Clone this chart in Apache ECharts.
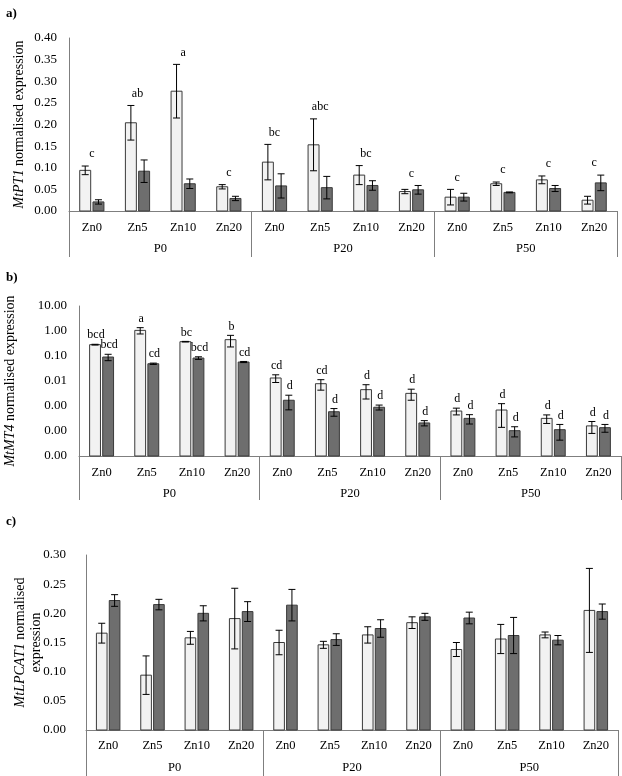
<!DOCTYPE html>
<html><head><meta charset="utf-8">
<script src="https://cdn.jsdelivr.net/npm/echarts@6.0.0/dist/echarts.min.js"></script>
<style>html,body{margin:0;padding:0;background:#fff}#c{width:622px;height:776px}</style>
</head><body><div id="c"></div>
<script>
// ---------- data ----------
const categories = ['Zn0','Zn5','Zn10','Zn20','Zn0','Zn5','Zn10','Zn20','Zn0','Zn5','Zn10','Zn20'];
const groups = ['P0','P20','P50'];

// a) MtPT1
const ptLight    = [0.094, 0.204, 0.277, 0.056, 0.113, 0.153, 0.083, 0.045, 0.032, 0.063, 0.072, 0.025];
const ptLightErr = [0.010, 0.040, 0.062, 0.005, 0.041, 0.060, 0.022, 0.005, 0.018, 0.004, 0.009, 0.009];
const ptDark     = [0.021, 0.092, 0.063, 0.029, 0.058, 0.054, 0.059, 0.049, 0.032, 0.043, 0.052, 0.065];
const ptDarkErr  = [0.005, 0.026, 0.011, 0.005, 0.028, 0.026, 0.011, 0.010, 0.009, 0.001, 0.007, 0.018];
const ptLetters  = ['c','ab','a','c','bc','abc','bc','c','c','c','c','c'];
const ptTicks    = [0, 0.40, 0.05];

// b) MtMT4 (log scale)
const mtLight    = [0.284, 1.06, 0.374, 0.45, 0.0132, 0.0078, 0.0045, 0.0032, 0.00063, 0.00069, 0.00032, 0.00016];
const mtLightErr = [0.01, 0.3, 0.01, 0.22, 0.0045, 0.0035, 0.0026, 0.0015, 0.00019, 0.00055, 0.00012, 0.00008];
const mtDark     = [0.091, 0.049, 0.083, 0.0575, 0.0017, 0.00059, 0.00089, 0.00021, 0.00032, 0.000103, 0.000113, 0.000136];
const mtDarkErr  = [0.026, 0.003, 0.01, 0.003, 0.001, 0.0002, 0.0002, 0.00005, 0.00013, 0.000045, 0.00007, 0.000047];
const mtLightLetters = ['bcd','a','bc','b','cd','cd','d','d','d','d','d','d'];
const mtDarkLetters  = ['bcd','cd','bcd','cd','d','d','d','d','d','d','d','d'];
const mtTicks    = [0.00001, 10];

// c) MtLPCAT1
const lpLight    = [0.166, 0.094, 0.158, 0.191, 0.150, 0.146, 0.163, 0.184, 0.138, 0.156, 0.163, 0.205];
const lpLightErr = [0.017, 0.033, 0.011, 0.052, 0.021, 0.006, 0.014, 0.010, 0.012, 0.025, 0.005, 0.072];
const lpDark     = [0.222, 0.215, 0.200, 0.203, 0.214, 0.155, 0.174, 0.194, 0.192, 0.162, 0.154, 0.203];
const lpDarkErr  = [0.010, 0.009, 0.013, 0.017, 0.027, 0.010, 0.015, 0.006, 0.010, 0.031, 0.008, 0.013];
const lpTicks    = [0, 0.30, 0.05];

// ---------- styles ----------
const serif = '"Liberation Serif", "DejaVu Serif", serif';
const axisGray = '#7f7f7f';
const lightFill = '#f2f2f2', darkFill = '#6e6e6e', barStroke = '#3a3a3a';

function rows(vals, errs) { return vals.map((v, i) => [i, v, errs[i]]); }

function barRender(side, fill, base, letters) {
  return function (params, api) {
    const i = api.value(0), v = api.value(1), e = api.value(2);
    const pb = api.coord([i, base]);
    const band = api.coord([1, base])[0] - api.coord([0, base])[0];
    const w = band * 0.24;
    const cx = pb[0] + side * band * 0.145;
    const top = api.coord([i, v])[1];
    const hi = api.coord([i, v + e])[1];
    const lo = api.coord([i, Math.max(v - e, base)])[1];
    const cap = 3.5;
    const ch = [
      {type: 'rect', shape: {x: cx - w / 2, y: top, width: w, height: pb[1] - top},
       style: {fill: fill, stroke: barStroke, lineWidth: 1}},
      {type: 'line', shape: {x1: cx, y1: hi, x2: cx, y2: lo}, style: {stroke: '#000', lineWidth: 1}},
      {type: 'line', shape: {x1: cx - cap, y1: hi, x2: cx + cap, y2: hi}, style: {stroke: '#000', lineWidth: 1}},
      {type: 'line', shape: {x1: cx - cap, y1: lo, x2: cx + cap, y2: lo}, style: {stroke: '#000', lineWidth: 1}}
    ];
    if (letters) {
      ch.push({type: 'text', style: {text: letters[params.dataIndex], x: cx + 1, y: hi - 3,
        align: 'center', verticalAlign: 'bottom', font: '12px ' + serif, fill: '#000'}});
    }
    return {type: 'group', children: ch};
  };
}

function letterRender(letters) {
  return function (params, api) {
    const i = api.value(0), v = api.value(1);
    const p = api.coord([i, v]);
    return {type: 'text', style: {text: letters[params.dataIndex], x: p[0], y: p[1] - 6,
      align: 'center', verticalAlign: 'bottom', font: '12px ' + serif, fill: '#000'}};
  };
}

const ptLetterTop = ptLight.map((v, i) => [i, Math.max(v + ptLightErr[i], ptDark[i] + ptDarkErr[i])]);

function catAxes(g, pMargin, tickLen, znMargin) {
  return [
    {gridIndex: g, type: 'category', data: categories,
     axisLine: {onZero: false, lineStyle: {color: axisGray, width: 1}}, axisTick: {show: false},
     axisLabel: {interval: 0, margin: znMargin, fontFamily: serif, fontSize: 12.5, color: '#000'}},
    {gridIndex: g, type: 'category', data: groups, position: 'bottom', offset: 0,
     axisLine: {show: false, onZero: false},
     axisTick: {show: true, length: tickLen, lineStyle: {color: axisGray, width: 1}},
     axisLabel: {interval: 0, margin: pMargin, fontFamily: serif, fontSize: 12.5, color: '#000'}}
  ];
}

function yName(txt) {
  return {
    name: txt, nameLocation: 'middle', nameRotate: 90, nameMoveOverlap: false,
    nameTextStyle: {fontFamily: serif, fontSize: 14, color: '#000', align: 'center', lineHeight: 16,
      rich: {i: {fontStyle: 'italic', fontFamily: serif, fontSize: 14, color: '#000', lineHeight: 16}}}
  };
}

const yCommon = {
  axisLine: {show: true, lineStyle: {color: axisGray, width: 1}},
  axisTick: {show: false}, splitLine: {show: false}
};
const tickFont = {fontFamily: serif, fontSize: 13, color: '#000'};
const gridCommon = {containLabel: false, outerBoundsMode: 'none'};

const option = {
  animation: false,
  backgroundColor: '#fff',
  title: [
    {text: 'a)', left: 1, top: 2, textStyle: {fontFamily: serif, fontSize: 13, fontWeight: 'bold', color: '#000'}},
    {text: 'b)', left: 1, top: 266, textStyle: {fontFamily: serif, fontSize: 13, fontWeight: 'bold', color: '#000'}},
    {text: 'c)', left: 1, top: 510, textStyle: {fontFamily: serif, fontSize: 13, fontWeight: 'bold', color: '#000'}}
  ],
  grid: [
    Object.assign({left: 69, right: 5, top: 38, height: 173}, gridCommon),
    Object.assign({left: 79, right: 1, top: 306, height: 150}, gridCommon),
    Object.assign({left: 86, right: 4, top: 555, height: 175}, gridCommon)
  ],
  xAxis: [].concat(catAxes(0, 31, 46, 10), catAxes(1, 31, 44, 10), catAxes(2, 31, 50, 9)),
  yAxis: [
    Object.assign({gridIndex: 0, type: 'value', min: ptTicks[0], max: ptTicks[1], interval: ptTicks[2],
      axisLabel: Object.assign({formatter: v => v.toFixed(2), margin: 12}, tickFont),
      nameGap: 42}, yCommon, yName('{i|MtPT1} normalised expression')),
    Object.assign({gridIndex: 1, type: 'log', logBase: 10, min: mtTicks[0], max: mtTicks[1], interval: 1,
      axisLabel: Object.assign({formatter: v => Number(v).toFixed(2), margin: 12}, tickFont),
      nameGap: 61}, yCommon, yName('{i|MtMT4} normalised expression')),
    Object.assign({gridIndex: 2, type: 'value', min: lpTicks[0], max: lpTicks[1], interval: lpTicks[2],
      axisLabel: Object.assign({formatter: v => v.toFixed(2), margin: 20}, tickFont),
      nameGap: 42}, yCommon, yName('{i|MtLPCAT1} normalised\nexpression'))
  ],
  series: [
    {type: 'custom', xAxisIndex: 0, yAxisIndex: 0, data: rows(ptLight, ptLightErr), renderItem: barRender(-1, lightFill, 0, null)},
    {type: 'custom', xAxisIndex: 0, yAxisIndex: 0, data: rows(ptDark, ptDarkErr), renderItem: barRender(1, darkFill, 0, null)},
    {type: 'custom', xAxisIndex: 0, yAxisIndex: 0, data: ptLetterTop, renderItem: letterRender(ptLetters)},
    {type: 'custom', xAxisIndex: 2, yAxisIndex: 1, data: rows(mtLight, mtLightErr), renderItem: barRender(-1, lightFill, mtTicks[0], mtLightLetters)},
    {type: 'custom', xAxisIndex: 2, yAxisIndex: 1, data: rows(mtDark, mtDarkErr), renderItem: barRender(1, darkFill, mtTicks[0], mtDarkLetters)},
    {type: 'custom', xAxisIndex: 4, yAxisIndex: 2, data: rows(lpLight, lpLightErr), renderItem: barRender(-1, lightFill, 0, null)},
    {type: 'custom', xAxisIndex: 4, yAxisIndex: 2, data: rows(lpDark, lpDarkErr), renderItem: barRender(1, darkFill, 0, null)}
  ]
};

const chart = echarts.init(document.getElementById('c'), null, {renderer: 'canvas'});
chart.setOption(option);
</script>
</body></html>
